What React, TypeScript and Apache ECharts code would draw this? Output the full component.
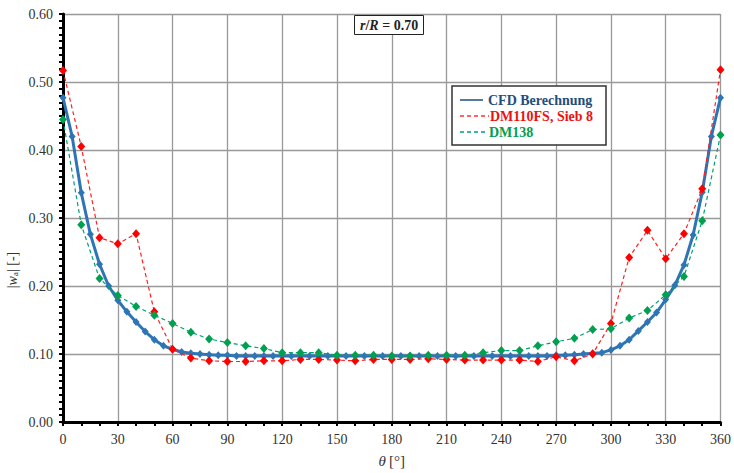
import React, { useEffect, useRef } from "react";
import * as echarts from "echarts";

const cfdAngles: number[] = [
  0, 5, 10, 15, 20, 25, 30, 35, 40, 45, 50, 55, 60, 65, 70, 75, 80, 85, 90, 95,
  100, 105, 110, 115, 120, 125, 130, 135, 140, 145, 150, 155, 160, 165, 170, 175,
  180, 185, 190, 195, 200, 205, 210, 215, 220, 225, 230, 235, 240, 245, 250, 255,
  260, 265, 270, 275, 280, 285, 290, 295, 300, 305, 310, 315, 320, 325, 330, 335,
  340, 345, 350, 355, 360,
];
const cfdValues: number[] = [
  0.477, 0.42, 0.337, 0.276, 0.232, 0.2, 0.179, 0.162, 0.147, 0.133, 0.121, 0.112,
  0.107, 0.103, 0.101, 0.1, 0.099, 0.098, 0.098, 0.097,
  0.097, 0.097, 0.097, 0.097, 0.097, 0.097, 0.097, 0.097, 0.097, 0.097, 0.097, 0.097,
  0.097, 0.097, 0.097, 0.097, 0.097, 0.097, 0.097, 0.097, 0.097, 0.097, 0.097, 0.097,
  0.097, 0.097, 0.097, 0.097, 0.097, 0.097, 0.097, 0.097, 0.097, 0.097,
  0.098, 0.098, 0.099, 0.1, 0.101, 0.102, 0.106, 0.112, 0.121, 0.134, 0.147, 0.161,
  0.18, 0.201, 0.231, 0.275, 0.338, 0.42, 0.477,
];

const measAngles: number[] = [
  0, 10, 20, 30, 40, 50, 60, 70, 80, 90, 100, 110, 120, 130, 140, 150, 160, 170,
  180, 190, 200, 210, 220, 230, 240, 250, 260, 270, 280, 290, 300, 310, 320, 330,
  340, 350, 360,
];
const dm110Values: number[] = [
  0.517, 0.405, 0.271, 0.262, 0.277, 0.162, 0.107, 0.094, 0.09, 0.089, 0.089, 0.09,
  0.09, 0.092, 0.092, 0.091, 0.09, 0.092, 0.092, 0.092, 0.093, 0.092, 0.091, 0.091,
  0.091, 0.091, 0.089, 0.096, 0.09, 0.1, 0.145, 0.242, 0.282, 0.24, 0.277, 0.343,
  0.518,
];
const dm138Values: number[] = [
  0.445, 0.29, 0.211, 0.186, 0.17, 0.157, 0.145, 0.132, 0.122, 0.117, 0.112, 0.108,
  0.102, 0.102, 0.102, 0.098, 0.098, 0.098, 0.097, 0.097, 0.098, 0.098, 0.098, 0.102,
  0.105, 0.105, 0.112, 0.118, 0.123, 0.136, 0.137, 0.153, 0.164, 0.187, 0.214, 0.296,
  0.422,
];

const xTicks: number[] = [0, 30, 60, 90, 120, 150, 180, 210, 240, 270, 300, 330, 360];
const yTicks: number[] = [0, 0.1, 0.2, 0.3, 0.4, 0.5, 0.6];

const seriesNames: string[] = ["CFD Berechnung", "DM110FS, Sieb 8", "DM138"];

const FONT = "'Liberation Serif', 'Times New Roman', serif";

export default function App() {
  const ref = useRef<HTMLDivElement>(null);

  useEffect(() => {
    if (!ref.current) return;
    const chart = echarts.init(ref.current, undefined, { renderer: "svg" });

    const pair = (xs: number[], ys: number[]) => xs.map((x, i) => [x, ys[i]]);

    const legendX = 452;
    const legendY = 86;
    const rowH = 16;

    chart.setOption({
      animation: false,
      backgroundColor: "#ffffff",
      textStyle: { fontFamily: FONT },
      title: {
        text: "{i|r}{n|/}{i|R}{n| = 0.70}",
        left: 354,
        top: 15,
        padding: [3, 6, 3, 6],
        borderColor: "#222",
        borderWidth: 1,
        backgroundColor: "#fff",
        textStyle: {
          rich: {
            i: { fontFamily: FONT, fontSize: 14, fontWeight: "bold", fontStyle: "italic", color: "#222" },
            n: { fontFamily: FONT, fontSize: 14, fontWeight: "bold", color: "#222" },
          },
        },
      },
      grid: { left: 63, right: 12, top: 14, bottom: 47, containLabel: false },
      xAxis: {
        type: "value",
        min: 0,
        max: 360,
        interval: 30,
        name: "{i|θ} {n|[°]}",
        nameLocation: "middle",
        nameGap: 31,
        nameTextStyle: {
          rich: {
            i: { fontFamily: FONT, fontSize: 15, fontStyle: "italic", color: "#333" },
            n: { fontFamily: FONT, fontSize: 15, color: "#333" },
          },
        },
        axisLine: { show: true, lineStyle: { color: "#000", width: 3 } },
        axisTick: { show: true, length: 4, lineStyle: { color: "#000", width: 2 } },
        minorTick: { show: true, splitNumber: 3, length: 4, lineStyle: { color: "#000", width: 2 } },
        axisLabel: {
          fontFamily: FONT,
          fontSize: 14,
          color: "#333",
          margin: 10,
          formatter: (v: number) => (xTicks.includes(v) ? String(v) : ""),
        },
        splitLine: { show: true, lineStyle: { color: "#999999", width: 1.3 } },
      },
      yAxis: {
        type: "value",
        min: 0,
        max: 0.6,
        interval: 0.1,
        axisLine: { show: true, lineStyle: { color: "#000", width: 3 } },
        axisTick: { show: true, length: 4, lineStyle: { color: "#000", width: 2 } },
        minorTick: { show: true, splitNumber: 10, length: 4, lineStyle: { color: "#000", width: 2 } },
        axisLabel: {
          fontFamily: FONT,
          fontSize: 14,
          color: "#333",
          margin: 10,
          formatter: (v: number) => {
            const t = yTicks.find((y) => Math.abs(y - v) < 1e-9);
            return t === undefined ? "" : t.toFixed(2);
          },
        },
        splitLine: { show: true, lineStyle: { color: "#999999", width: 1.3 } },
      },
      series: [
        {
          name: seriesNames[0],
          type: "line",
          data: pair(cfdAngles, cfdValues),
          symbol: "diamond",
          symbolSize: [7, 8],
          showSymbol: true,
          lineStyle: { color: "#2E75B6", width: 3 },
          itemStyle: { color: "#2E75B6" },
          z: 2,
        },
        {
          name: seriesNames[1],
          type: "line",
          data: pair(measAngles, dm110Values),
          symbol: "diamond",
          symbolSize: [8, 9],
          lineStyle: { color: "#FF2020", width: 1.2, type: [4, 3] },
          itemStyle: { color: "#FF0000" },
          z: 3,
        },
        {
          name: seriesNames[2],
          type: "line",
          data: pair(measAngles, dm138Values),
          symbol: "diamond",
          symbolSize: [8, 9],
          lineStyle: { color: "#00A070", width: 1.2, type: [4, 3] },
          itemStyle: { color: "#00A050" },
          z: 4,
        },
      ],
      graphic: [
        {
          type: "text",
          x: 12,
          y: 270,
          rotation: Math.PI / 2,
          style: {
            text: "{n||}{i|w}{s|a}{n|| [-]}",
            align: "center",
            verticalAlign: "middle",
            rich: {
              n: { fontFamily: FONT, fontSize: 14, fill: "#333" },
              i: { fontFamily: FONT, fontSize: 14, fontStyle: "italic", fill: "#333" },
              s: { fontFamily: FONT, fontSize: 9, fill: "#333", verticalAlign: "bottom", padding: [6, 0, 0, 0] },
            },
          },
        },
        {
          type: "rect",
          shape: { x: legendX, y: legendY, width: 154, height: 59 },
          style: { fill: "#fff", stroke: "#333", lineWidth: 1.5 },
          z: 10,
        },
        {
          type: "line",
          shape: { x1: legendX + 8, y1: legendY + 14, x2: legendX + 31, y2: legendY + 14 },
          style: { stroke: "#1F4E79", lineWidth: 1.5 },
          z: 11,
        },
        {
          type: "line",
          shape: { x1: legendX + 8, y1: legendY + 14 + rowH, x2: legendX + 37, y2: legendY + 14 + rowH },
          style: { stroke: "#FF3030", lineWidth: 1.3, lineDash: [4, 3] },
          z: 11,
        },
        {
          type: "line",
          shape: { x1: legendX + 8, y1: legendY + 14 + 2 * rowH, x2: legendX + 36, y2: legendY + 14 + 2 * rowH },
          style: { stroke: "#00A080", lineWidth: 1.3, lineDash: [4, 3] },
          z: 11,
        },
        {
          type: "text",
          x: legendX + 36,
          y: legendY + 14,
          style: {
            text: seriesNames[0],
            fontFamily: FONT,
            fontSize: 14,
            fontWeight: "bold",
            fill: "#1F4E79",
            verticalAlign: "middle",
          },
          z: 11,
        },
        {
          type: "text",
          x: legendX + 38,
          y: legendY + 14 + rowH,
          style: {
            text: seriesNames[1],
            fontFamily: FONT,
            fontSize: 14,
            fontWeight: "bold",
            fill: "#EE1111",
            verticalAlign: "middle",
          },
          z: 11,
        },
        {
          type: "text",
          x: legendX + 37,
          y: legendY + 14 + 2 * rowH,
          style: {
            text: seriesNames[2],
            fontFamily: FONT,
            fontSize: 14,
            fontWeight: "bold",
            fill: "#00A050",
            verticalAlign: "middle",
          },
          z: 11,
        },
      ],
    });

    return () => chart.dispose();
  }, []);

  return (
    <div
      ref={ref}
      style={{ position: "fixed", left: 0, top: 0, width: 734, height: 473, background: "#fff" }}
    />
  );
}
